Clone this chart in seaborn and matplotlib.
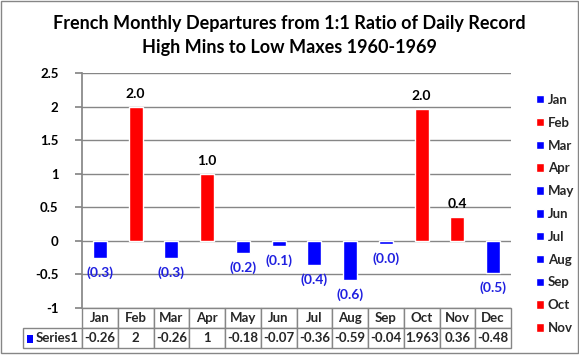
import numpy as np
import pandas as pd
import matplotlib
matplotlib.use('Agg')
import matplotlib.pyplot as plt
import seaborn as sns
from matplotlib.patches import Rectangle

# ---- data ----
months = ['Jan', 'Feb', 'Mar', 'Apr', 'May', 'Jun', 'Jul', 'Aug', 'Sep', 'Oct', 'Nov', 'Dec']
values = [-0.26, 2, -0.26, 1, -0.18, -0.07, -0.36, -0.59, -0.04, 1.963, 0.36, -0.48]
table_text = ['-0.26', '2', '-0.26', '1', '-0.18', '-0.07', '-0.36', '-0.59', '-0.04', '1.963', '0.36', '-0.48']
yticks = [-1, -0.5, 0, 0.5, 1, 1.5, 2, 2.5]
ytick_labels = ['-1', '-0.5', '0', '0.5', '1', '1.5', '2', '2.5']

BLUE = '#0000FF'
RED = '#FF0000'
GRID = '#868686'

sns.set_theme(style='white')
plt.rcParams['font.family'] = ['Lato', 'DejaVu Sans']
plt.rcParams['font.weight'] = 'bold'

df = pd.DataFrame({'Month': months, 'Value': values})
palette = {m: (RED if v > 0 else BLUE) for m, v in zip(months, values)}

fig = plt.figure(figsize=(5.79, 3.57), dpi=100)
ax = fig.add_axes([82 / 579, 1 - 308 / 357, 429 / 579, 235 / 357])

sns.barplot(data=df, x='Month', y='Value', hue='Month', palette=palette,
            dodge=False, width=0.39, saturation=1, ax=ax, legend=True)

ax.set_ylim(-1, 2.5)
ax.set_xlim(-0.5, 11.5)
ax.set_yticks(yticks)
ax.set_yticklabels(ytick_labels, fontsize=9.5, fontweight='bold', color='black')
ax.yaxis.grid(True, color=GRID, linewidth=1)
ax.set_axisbelow(True)
ax.set_xticks([])
ax.set_xlabel('')
ax.set_ylabel('')
for s in ['top', 'right', 'bottom']:
    ax.spines[s].set_visible(False)
ax.spines['left'].set_color(GRID)
ax.tick_params(axis='y', length=5, color=GRID, direction='out', left=True, pad=12)

# data labels
for i, v in enumerate(values):
    if v > 0:
        ax.annotate(f'{v:.1f}', (i, v), xytext=(0, 5), textcoords='offset points',
                    ha='center', va='bottom', fontsize=10, fontweight='bold', color='black')
    else:
        ax.annotate(f'({abs(v):.1f})', (i, v), xytext=(0, -6), textcoords='offset points',
                    ha='center', va='top', fontsize=10, fontweight='bold', color='#2020E0')

# legend (Dec does not fit)
handles, labels = ax.get_legend_handles_labels()
ax.get_legend().remove()
fig.legend(handles[:11], labels[:11], loc='upper left', bbox_to_anchor=(524 / 579, 1 - 82 / 357),
           frameon=False, handlelength=0.6, handleheight=0.6, handletextpad=0.3,
           labelspacing=0.82, prop={'size': 9.5, 'weight': 'bold'})

# data table
lab_w = 59 / 429
cells = [[''] + months, ['Series1'] + table_text]
col_w = [lab_w] + [1 / 12] * 12
tbl = ax.table(cellText=cells, colWidths=col_w, cellLoc='center',
               bbox=[-lab_w, -40 / 235, 1 + lab_w, 40 / 235])
tbl.auto_set_font_size(False)
for (r, c), cell in tbl.get_celld().items():
    cell.set_edgecolor(GRID)
    cell.set_linewidth(1)
    cell.get_text().set_fontsize(9.5)
    cell.get_text().set_fontweight('bold')
    cell.PAD = 0.05
tbl[0, 0].visible_edges = ''
tbl[1, 0].get_text().set_ha('right')
tbl[1, 0]._loc = 'right'

fig.add_artist(Rectangle((27 / 579, 1 - 343 / 357), 6 / 579, 8 / 357,
                         transform=fig.transFigure, facecolor=BLUE, edgecolor='none'))

# title
fig.text(0.5, 1 - 23 / 357, 'French Monthly Departures from 1:1 Ratio of Daily Record',
         ha='center', va='center', fontsize=13, fontweight='bold', color='black')
fig.text(0.5, 1 - 47 / 357, 'High Mins to Low Maxes 1960-1969',
         ha='center', va='center', fontsize=13, fontweight='bold', color='black')

# outer border
fig.add_artist(Rectangle((1 / 579, 1 - 353 / 357), 577 / 579, 352 / 357,
                         transform=fig.transFigure, facecolor='none', edgecolor=GRID, linewidth=1))

fig.savefig('out.png', dpi=100)
